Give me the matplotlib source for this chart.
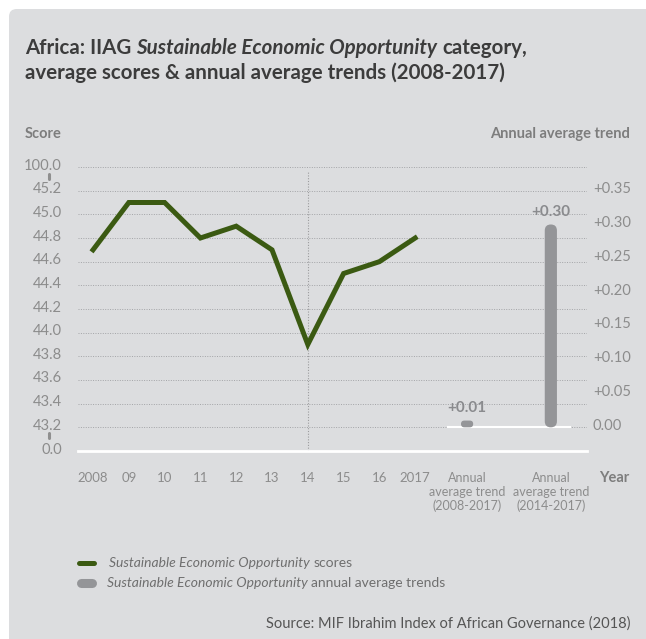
import numpy as np
import matplotlib
matplotlib.use("Agg")
import matplotlib.pyplot as plt
import matplotlib.transforms as mtransforms
from matplotlib.patches import FancyBboxPatch
from matplotlib.lines import Line2D

# data
years = ["2008", "09", "10", "11", "12", "13", "14", "15", "16", "2017"]
scores = [44.7, 45.1, 45.1, 44.8, 44.9, 44.7, 43.9, 44.5, 44.6, 44.8]
trend_labels = ["Annual\naverage trend\n(2008-2017)", "Annual\naverage trend\n(2014-2017)"]
trends = [0.01, 0.30]
score_ticks = [43.2, 43.4, 43.6, 43.8, 44.0, 44.2, 44.4, 44.6, 44.8, 45.0, 45.2]
trend_ticks = [0.00, 0.05, 0.10, 0.15, 0.20, 0.25, 0.30, 0.35]

FONT = "Lato"
plt.rcParams["font.family"] = [FONT, "DejaVu Sans"]

PANEL = "#dcdddf"
GREEN = "#3b5a12"
BAR = "#949598"
TICK = "#8c8c8c"
LABEL = "#7d7d7d"
TITLE = "#3c3c3c"

W, H = 646, 639
fig = plt.figure(figsize=(W / 100, H / 100), dpi=100)
fig.patch.set_facecolor("white")

# grey rounded panel
panel = FancyBboxPatch((9 / W, -0.05), 1.1, (H - 9) / H + 0.05,
                       boxstyle="round,pad=0,rounding_size=0.012",
                       transform=fig.transFigure, facecolor=PANEL,
                       edgecolor="none", zorder=-5)
fig.patches.append(panel)

# axes region: x 78..587 px, y 167..451 px
l, b = 78 / W, (H - 451) / H
ax = fig.add_axes([l, b, (587 - 78) / W, (451 - 167) / H])
ax.set_facecolor("none")
for s in ax.spines.values():
    s.set_visible(False)

x = np.arange(len(years))
bar_x = [10.45, 12.79]
ax.set_xlim(-0.42, 13.8)
ax.set_ylim(43.0, 45.4)


def trend_to_score(v):
    return 43.2 + np.asarray(v) / 0.35 * 2.0


def score_to_trend(s):
    return (np.asarray(s) - 43.2) * 0.35 / 2.0


# gridlines
for t in score_ticks + [45.4]:
    ax.axhline(t, color="#a3a4a7", lw=0.7, ls=(0, (1, 1.5)), zorder=1)
ax.axhline(43.0, color="white", lw=2, zorder=2, clip_on=False)
ax.axvline(6, ymin=0, ymax=0.985, color="#9c9c9e", lw=0.8, ls=(0, (1, 1.5)), zorder=1)

# white baseline under trend bars
ax.plot([9.92, 13.32], [43.2, 43.2], color="white", lw=1.5, zorder=2)

# score line
ax.plot(x, scores, color=GREEN, lw=3.6, solid_joinstyle="miter", zorder=4)

# trend bars as rounded pills
bw = 0.34
ppx = 35.8   # px per x unit
ppy = 118.3  # px per y unit
aspect = ppx / ppy
for bx, v in zip(bar_x, trends):
    top = float(trend_to_score(v))
    h = top - 43.2
    hx = h / aspect  # height expressed in x units
    r = min(bw / 2, hx / 2)
    p = FancyBboxPatch((bx - bw / 2, 43.2), bw, h,
                       boxstyle=f"round,pad=0,rounding_size={r}",
                       mutation_aspect=aspect, facecolor=BAR,
                       edgecolor="none", zorder=3)
    ax.add_patch(p)
    ax.annotate(f"+{v:.2f}", (bx, top), xytext=(0, 4), textcoords="offset points",
                ha="center", va="bottom", color="#8a8b8e", fontsize=11,
                fontweight="bold", zorder=5)

down = mtransforms.ScaledTranslation(0, -2.5 / 100, fig.dpi_scale_trans)

# left ticks
ax.set_yticks([43.0] + score_ticks + [45.4])
ax.set_yticklabels(["0.0"] + [f"{t:.1f}" for t in score_ticks] + ["100.0"])
ax.tick_params(axis="y", length=0, pad=11.5, labelsize=10.6, labelcolor=TICK)
for lab in ax.get_yticklabels():
    lab.set_verticalalignment("baseline")
    lab.set_transform(lab.get_transform() + down)

# right ticks
sec = ax.secondary_yaxis("right", functions=(score_to_trend, trend_to_score))
sec.set_yticks(trend_ticks)
sec.set_yticklabels(["0.00"] + [f"+{t:.2f}" for t in trend_ticks[1:]])
sec.tick_params(axis="y", length=0, pad=4.3, labelsize=10.6, labelcolor=TICK)
for s in sec.spines.values():
    s.set_visible(False)
for lab in sec.get_yticklabels():
    lab.set_verticalalignment("baseline")
    lab.set_transform(lab.get_transform() + down)

# axis breaks
for yb in (45.32, 43.13):
    ax.plot([-1.23, -1.23], [yb - 0.022, yb + 0.022], color="#8f8f8f", lw=2.2,
            solid_capstyle="round", clip_on=False)

# x ticks
ax.set_xticks(list(x) + bar_x)
ax.set_xticklabels(years + trend_labels, linespacing=1.2)
ax.tick_params(axis="x", length=0, pad=15, labelsize=9.5, labelcolor=TICK)
for lab in ax.get_xticklabels()[len(years):]:
    lab.set_fontsize(9)

ax.text(14.55, 42.83, "Year", ha="center", va="top", fontsize=10.5,
        fontweight="bold", color=LABEL, clip_on=False)

# titles and labels
fig.canvas.draw()
renderer = fig.canvas.get_renderer()


def space_w(**kw):
    a = fig.text(0, 0, "a a", **kw)
    c = fig.text(0, 0, "aa", **kw)
    w = a.get_window_extent(renderer).width - c.get_window_extent(renderer).width
    a.remove()
    c.remove()
    return w


def spans(xp, yp, parts, **kw):
    xx = xp
    for txt, style in parts:
        lead = len(txt) - len(txt.lstrip(" "))
        trail = len(txt) - len(txt.rstrip(" "))
        sw = space_w(style=style, **kw)
        xx += lead * sw
        t = fig.text(xx / W, 1 - yp / H, txt.strip(" "), style=style, va="baseline", **kw)
        xx += t.get_window_extent(renderer).width + trail * sw


tkw = dict(fontsize=14.8, fontweight="bold", color=TITLE)
spans(25, 54, [("Africa: IIAG ", "normal"),
               ("Sustainable Economic Opportunity", "italic"),
               (" category,", "normal")], **tkw)
fig.text(25 / W, 1 - 79 / H, "average scores & annual average trends (2008-2017)",
         va="baseline", **tkw)

fig.text(25 / W, 1 - 138 / H, "Score", fontsize=10.5, fontweight="bold", color=LABEL,
         va="baseline")
fig.text(630 / W, 1 - 138 / H, "Annual average trend", fontsize=10.5, fontweight="bold",
         color=LABEL, va="baseline", ha="right")

# legend
lkw = dict(fontsize=10, color="#6f6f6f")
fig.add_artist(Line2D([79 / W, 94 / W], [1 - 563 / H] * 2, color=GREEN, lw=3.6,
                      solid_capstyle="round"))
spans(109, 567, [("Sustainable Economic Opportunity", "italic"), (" scores", "normal")], **lkw)
fig.add_artist(Line2D([81 / W, 92 / W], [1 - 583 / H] * 2, color=BAR, lw=6.5,
                      solid_capstyle="round"))
spans(107, 587, [("Sustainable Economic Opportunity", "italic"),
                 (" annual average trends", "normal")], **lkw)

fig.text(630 / W, 1 - 628 / H, "Source: MIF Ibrahim Index of African Governance (2018)",
         fontsize=10.5, color="#555555", ha="right", va="baseline")

fig.savefig("out.png", dpi=100, facecolor="white")
